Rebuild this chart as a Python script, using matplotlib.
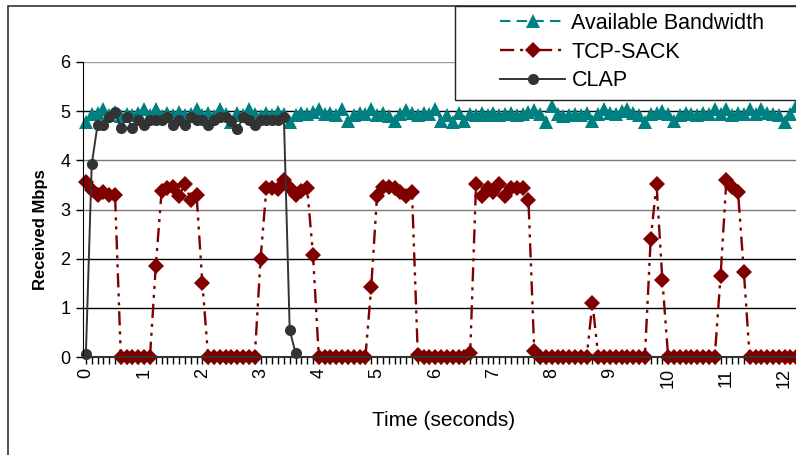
import numpy as np
import matplotlib
matplotlib.use("Agg")
import matplotlib.pyplot as plt
from matplotlib import font_manager
from matplotlib.patches import Rectangle

# sample times, one point every 0.1 s
time = np.round(np.arange(0, 12.25, 0.1), 1)

available_bw = [
    4.77, 4.95, 4.97, 5.05, 4.93, 4.98, 4.90, 4.95, 4.92, 4.97,
    5.05, 4.93, 5.05, 4.90, 4.96, 4.92, 4.98, 4.93, 4.95, 5.05,
    4.92, 4.97, 4.90, 5.05, 4.95, 4.77, 4.97, 4.93, 5.05, 4.95,
    4.90, 4.97, 4.93, 4.98, 4.95, 4.77, 4.93, 4.97, 4.95, 4.98,
    5.05, 4.95, 4.97, 4.93, 5.05, 4.80, 4.93, 4.97, 4.95, 5.05,
    4.93, 4.97, 4.90, 4.80, 4.95, 5.03, 4.97, 4.93, 4.97, 4.95,
    5.05, 4.80, 4.93, 4.78, 4.97, 4.80, 4.95, 4.93, 4.97, 4.93,
    4.97, 4.93, 4.95, 4.97, 4.93, 4.95, 4.98, 5.03, 4.95, 4.78,
    5.10, 4.95, 4.90, 4.93, 4.95, 4.93, 4.97, 4.80, 4.95, 5.05,
    4.97, 4.95, 5.00, 5.05, 4.97, 4.93, 4.78, 4.95, 4.97, 5.00,
    4.95, 4.80, 4.93, 4.97, 4.95, 4.93, 4.97, 4.95, 5.05, 4.95,
    5.05, 4.93, 4.97, 4.95, 5.05, 4.95, 5.05, 4.97, 4.95, 4.93,
    4.78, 4.95, 5.10,
]

tcp_sack = [
    3.55, 3.40, 3.30, 3.35, 3.30, 3.30,
    0, 0, 0, 0, 0, 0,
    1.85, 3.37, 3.44, 3.45, 3.28, 3.52, 3.20, 3.30, 1.50,
    0, 0, 0, 0, 0, 0, 0, 0, 0,
    2.00, 3.44, 3.44, 3.42, 3.60, 3.44, 3.30, 3.38, 3.44, 2.08,
    0, 0, 0, 0, 0, 0, 0, 0, 0,
    1.42, 3.28, 3.46, 3.46, 3.43, 3.35, 3.28, 3.36, 0.05,
    0, 0, 0, 0, 0, 0, 0, 0,
    0.08, 3.51, 3.28, 3.44, 3.35, 3.51, 3.27, 3.43, 3.44, 3.44, 3.20, 0.13,
    0, 0, 0, 0, 0, 0, 0, 0, 0,
    1.10,
    0, 0, 0, 0, 0, 0, 0, 0, 0,
    2.40, 3.52, 1.57,
    0, 0, 0, 0, 0, 0, 0, 0, 0,
    1.65, 3.60, 3.45, 3.35, 1.73,
    0, 0, 0, 0, 0, 0, 0, 0, 0,
]

clap = [
    0.07, 3.92, 4.72, 4.72, 4.88, 4.99, 4.65, 4.88, 4.65, 4.83,
    4.72, 4.83, 4.83, 4.83, 4.88, 4.72, 4.83, 4.72, 4.88, 4.83,
    4.83, 4.72, 4.83, 4.88, 4.88, 4.81, 4.63, 4.88, 4.83, 4.72,
    4.83, 4.83, 4.83, 4.83, 4.88, 0.55, 0.08,
]

x_tick_labels = [str(i) for i in range(13)]

# Narrow Arial look-alike if it is installed
names = {f.name for f in font_manager.fontManager.ttflist}
narrow = "Liberation Sans Narrow" in names
main_font = "Liberation Sans Narrow" if narrow else "Liberation Sans"
plt.rcParams["font.family"] = [main_font, "Liberation Sans", "DejaVu Sans"]

W, H = 796, 455
fig = plt.figure(figsize=(W / 100, H / 100), dpi=100)
ax = fig.add_axes([83 / W, (H - 357) / H, (805 - 83) / W, 295 / H])

teal = "#008080"
darkred = "#800000"
gray = "#333333"

ax.plot(time[:len(available_bw)], available_bw, color=teal, lw=1.5,
        linestyle=(0, (5, 3)), marker="^", markersize=9.5,
        markeredgewidth=0, label="Available Bandwidth", clip_on=False)
ax.plot(time[:len(tcp_sack)], tcp_sack, color=darkred, lw=1.7,
        linestyle=(0, (6, 2.5, 1.3, 2.5, 1.3, 2.5)), marker="D", markersize=8.5,
        markeredgewidth=0, label="TCP-SACK", clip_on=False)
ax.plot(time[:len(clap)], clap, color=gray, lw=1.4, marker="o",
        markersize=8, markeredgewidth=0, label="CLAP", clip_on=False)

ax.set_xlim(-0.05, 12.35)
ax.set_ylim(0, 6)
ax.set_yticks(range(7))
ax.set_xticks(range(13))
ax.set_xticklabels(x_tick_labels, rotation=90)
ax.set_xticks(np.arange(0, 12.35, 0.1), minor=True)
ax.tick_params(axis="both", which="both", direction="out", length=5,
               width=1, color="black", labelsize=14 if narrow else 13)
ax.tick_params(axis="x", pad=3)
ax.tick_params(axis="y", pad=4)

ax.yaxis.grid(True)
grid_colors = ["black", "black", "black", "#7a7a7a", "#7a7a7a", "black", "#9a9a9a"]
for gl, c in zip(ax.get_ygridlines(), grid_colors):
    gl.set_color(c)
    gl.set_linewidth(1)
ax.set_axisbelow(True)

for side in ["top", "right"]:
    ax.spines[side].set_visible(False)
ax.spines["left"].set_color("black")
ax.spines["bottom"].set_color("#333333")
ax.spines["bottom"].set_linewidth(1.5)

fig.text(40 / W, 1 - 230 / H, "Received Mbps", rotation=90, ha="center",
         va="center", fontsize=12, fontweight="bold", family="Liberation Sans")
fig.text(444 / W, 1 - 421 / H, "Time (seconds)", ha="center", va="center",
         fontsize=17 if narrow else 15)

# outer chart border and legend box
fig.patches.append(Rectangle((8 / W, -0.1), 1.2, 1 - 6 / H + 0.1,
                             transform=fig.transFigure, fill=False,
                             edgecolor="#222222", lw=1.1, zorder=4))
fig.patches.append(Rectangle((455 / W, 1 - 100 / H), 0.5, 94 / H,
                             transform=fig.transFigure, facecolor="white",
                             edgecolor="#222222", lw=1.0, zorder=5))

leg_fs = 18 if narrow else 15.5
fig.legend(loc="upper left", bbox_to_anchor=(500 / W, 1 - 13 / H),
           frameon=False, fontsize=leg_fs, numpoints=1,
           handlelength=65 / (leg_fs * 100 / 72), handletextpad=0.3,
           labelspacing=0.36, borderpad=0, borderaxespad=0)

fig.savefig("out.png", dpi=100)
